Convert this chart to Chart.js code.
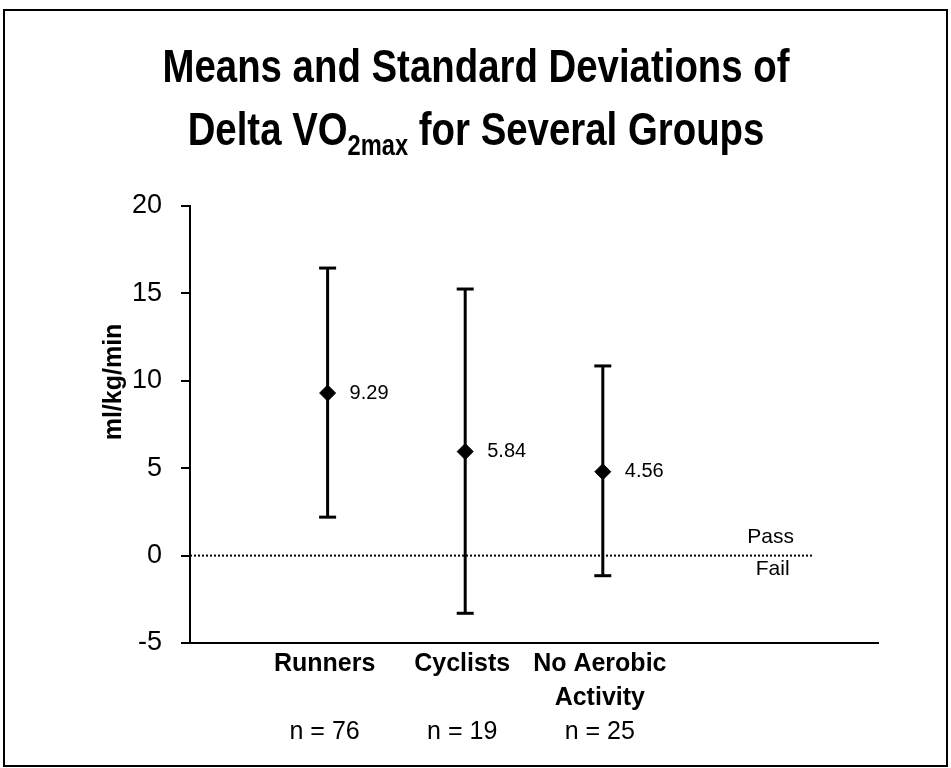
<!DOCTYPE html>
<html><head><meta charset="utf-8">
<script src="https://cdn.jsdelivr.net/npm/chart.js@4"></script>
<style>html,body{margin:0;padding:0;background:#fff;} #wrap{width:951px;height:768px;position:relative;}</style>
</head><body><div id="wrap"><canvas id="c" width="951" height="768"></canvas></div>
<script>
// ---- data ----
const titleLine1 = "Means and Standard Deviations of";
const titleLine2 = ["Delta VO", "2max", " for Several Groups"];
const yAxisTitle = "ml/kg/min";
const categories = [["Runners"], ["Cyclists"], ["No Aerobic", "Activity"]];
const sampleSizes = ["n = 76", "n = 19", "n = 25"];
const categoryX = [1, 2, 3];
const means = [9.3, 5.95, 4.8];
const meanLabels = ["9.29", "5.84", "4.56"];
const upper = [16.45, 15.25, 10.85];
const lower = [2.2, -3.3, -1.15];
const yMin = -5, yMax = 20, yStep = 5;
const xMin = 0, xMax = 5;
const passFailX = [0, 4.52];
const passFailLabels = ["Pass", "Fail"];
const passFailLabelX = 4.22;

const SANS = '"Liberation Sans", Arial, Helvetica, sans-serif';

const errorSets = categoryX.map((cx, i) => ({
  type: 'line',
  data: [{x: cx, y: lower[i]}, {x: cx, y: upper[i]}],
  borderColor: '#000', borderWidth: 3, showLine: true,
  pointStyle: 'line', pointRadius: 8.5, pointBorderWidth: 3,
  pointBorderColor: '#000', pointHoverRadius: 8.5
}));

const meanSet = {
  type: 'scatter',
  data: categoryX.map((cx, i) => ({x: cx, y: means[i]})),
  pointStyle: 'rectRot', pointRadius: 8, pointBackgroundColor: '#000',
  pointBorderColor: '#000', pointBorderWidth: 1, showLine: false
};

const passFailSet = {
  type: 'line',
  data: passFailX.map(x => ({x: x, y: 0})),
  borderColor: '#000', borderWidth: 2, borderDash: [2, 2],
  pointRadius: 0, showLine: true
};

const decor = {
  id: 'decor',
  afterDraw(chart) {
    const ctx = chart.ctx;
    const xs = chart.scales.x, ys = chart.scales.y;
    ctx.save();
    // frame
    ctx.strokeStyle = '#000'; ctx.lineWidth = 2;
    ctx.strokeRect(4, 10, 943, 756);
    ctx.fillStyle = '#000';
    // title
    const fs = 47;
    ctx.font = 'bold ' + fs + 'px ' + SANS;
    const w1 = ctx.measureText(titleLine1).width;
    const sx = 627 / w1;
    ctx.textBaseline = 'alphabetic';
    ctx.textAlign = 'left';
    ctx.save();
    ctx.translate(476, 0); ctx.scale(sx, 1);
    ctx.fillText(titleLine1, -w1 / 2, 82);
    ctx.font = 'bold ' + fs + 'px ' + SANS;
    const a = ctx.measureText(titleLine2[0]).width;
    ctx.font = 'bold ' + Math.round(fs * 0.62) + 'px ' + SANS;
    const b = ctx.measureText(titleLine2[1]).width;
    ctx.font = 'bold ' + fs + 'px ' + SANS;
    const c = ctx.measureText(titleLine2[2]).width;
    let x0 = -(a + b + c) / 2;
    ctx.fillText(titleLine2[0], x0, 145);
    ctx.font = 'bold ' + Math.round(fs * 0.62) + 'px ' + SANS;
    ctx.fillText(titleLine2[1], x0 + a, 155);
    ctx.font = 'bold ' + fs + 'px ' + SANS;
    ctx.fillText(titleLine2[2], x0 + a + b, 145);
    ctx.restore();
    // y axis title
    ctx.save();
    ctx.translate(114, 382); ctx.rotate(-Math.PI / 2);
    ctx.font = 'bold 25px ' + SANS;
    ctx.textAlign = 'center'; ctx.textBaseline = 'middle';
    ctx.fillText(yAxisTitle, 0, 0);
    ctx.restore();
    // x category labels
    ctx.textAlign = 'center'; ctx.textBaseline = 'middle';
    categoryX.forEach((cx, i) => {
      const px = xs.getPixelForValue(cx) - 3;
      ctx.font = 'bold 25px ' + SANS;
      categories[i].forEach((ln, k) => ctx.fillText(ln, px, xs.top + 21 + k * 34));
      ctx.font = '25px ' + SANS;
      ctx.fillText(sampleSizes[i], px, xs.top + 89);
    });
    // mean labels
    const meta = chart.getDatasetMeta(errorSets.length);
    ctx.font = '20px ' + SANS;
    ctx.textAlign = 'left';
    meta.data.forEach((pt, i) => ctx.fillText(meanLabels[i], pt.x + 22, pt.y));
    // pass / fail
    const zx = xs.getPixelForValue(passFailLabelX), zy = ys.getPixelForValue(0);
    ctx.font = '21px ' + SANS; ctx.textAlign = 'center';
    ctx.fillText(passFailLabels[0], zx, zy - 18);
    ctx.fillText(passFailLabels[1], zx + 2, zy + 14);
    ctx.restore();
  }
};

new Chart(document.getElementById('c'), {
  type: 'scatter',
  data: { datasets: [...errorSets, meanSet, passFailSet] },
  options: {
    responsive: false, animation: false,
    layout: { padding: { left: 110, top: 206, right: 73, bottom: 0 } },
    plugins: { legend: { display: false }, tooltip: { enabled: false }, title: { display: false } },
    scales: {
      x: {
        type: 'linear', min: xMin, max: xMax, position: 'bottom',
        ticks: { display: false },
        grid: { display: true, drawOnChartArea: false, drawTicks: false, color: '#000' },
        border: { display: true, color: '#000', width: 2 },
        afterFit(s) { s.height = 125; }
      },
      y: {
        type: 'linear', min: yMin, max: yMax,
        ticks: { stepSize: yStep, color: '#000', padding: 19,
                 font: { family: SANS, size: 27 } },
        grid: { display: true, drawOnChartArea: false, drawTicks: true, tickLength: 9, color: '#000', lineWidth: 2 },
        border: { display: true, color: '#000', width: 2 },
        afterFit(s) { s.width = 80; }
      }
    }
  },
  plugins: [decor]
});
</script>
</body></html>
